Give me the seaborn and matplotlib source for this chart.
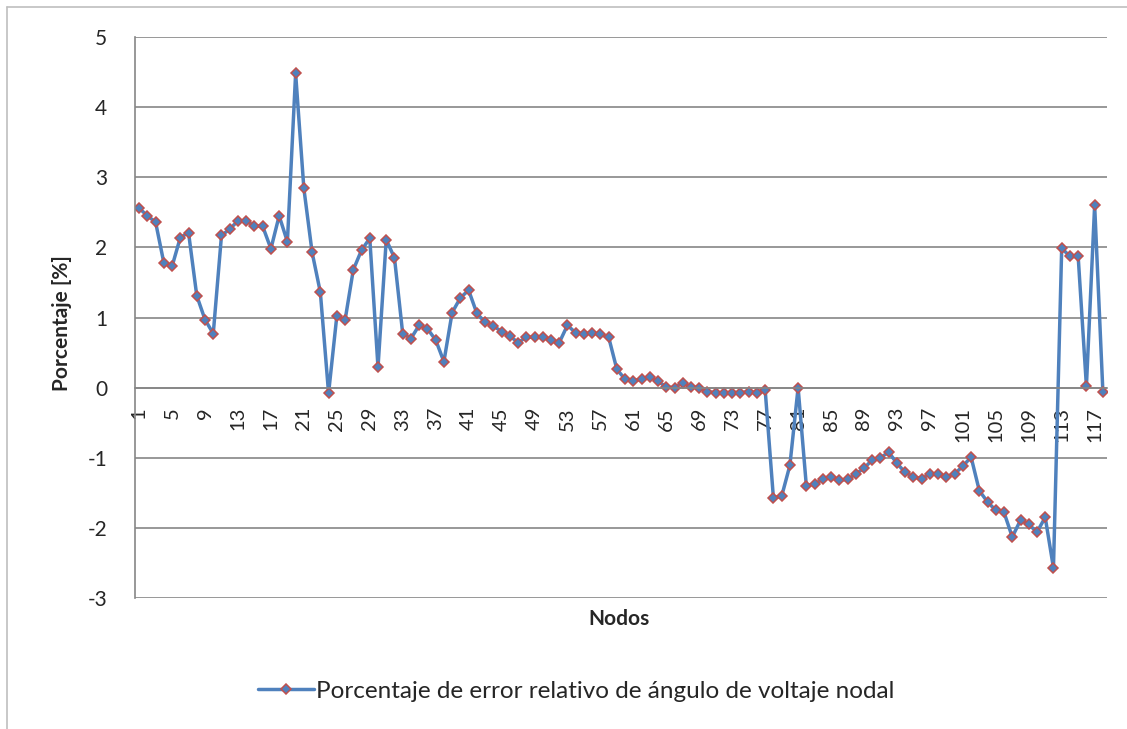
import pandas as pd
import matplotlib.pyplot as plt
import seaborn as sns
from matplotlib.ticker import FixedLocator
from matplotlib.lines import Line2D

# Data: relative error (%) of nodal voltage angle, nodes 1..118
nodos = list(range(1, 119))
error_angulo = [
    2.56, 2.45, 2.36, 1.78, 1.73, 2.14, 2.21, 1.31, 0.97, 0.77,
    2.17, 2.26, 2.38, 2.37, 2.31, 2.30, 1.98, 2.45, 2.08, 4.48,
    2.84, 1.93, 1.36, -0.08, 1.02, 0.96, 1.68, 1.96, 2.13, 0.29,
    2.11, 1.85, 0.77, 0.70, 0.89, 0.84, 0.68, 0.37, 1.07, 1.28,
    1.39, 1.06, 0.93, 0.88, 0.80, 0.74, 0.64, 0.72, 0.72, 0.72,
    0.68, 0.64, 0.89, 0.78, 0.77, 0.78, 0.76, 0.72, 0.26, 0.12,
    0.10, 0.12, 0.15, 0.09, 0.01, 0.00, 0.07, 0.01, 0.00, -0.06,
    -0.07, -0.08, -0.07, -0.07, -0.06, -0.07, -0.03, -1.57, -1.55, -1.11,
    0.00, -1.40, -1.37, -1.31, -1.28, -1.32, -1.31, -1.23, -1.15, -1.03,
    -1.00, -0.92, -1.08, -1.21, -1.27, -1.30, -1.23, -1.23, -1.27, -1.23,
    -1.12, -0.99, -1.47, -1.63, -1.75, -1.78, -2.13, -1.89, -1.95, -2.06,
    -1.85, -2.57, 1.99, 1.87, 1.87, 0.02, 2.60, -0.06,
]
etiquetas_x = nodos[::4]
serie = "Porcentaje de error relativo de ángulo de voltaje nodal"

data = pd.DataFrame({"Nodo": nodos, "Error": error_angulo})

sns.set_style("white")
plt.rcParams['font.family'] = ['Lato', 'DejaVu Sans']
plt.rcParams['axes.unicode_minus'] = False

gris = "#868686"
azul = "#4F81BD"
rojo = "#C0504D"

fig = plt.figure(figsize=(11.27, 7.29), dpi=100)
ax = fig.add_axes([135 / 1127, 1 - 598 / 729, (1107 - 135) / 1127, (598 - 37) / 729])

sns.lineplot(data=data, x="Nodo", y="Error", ax=ax, color=azul, linewidth=2.5,
             marker="D", markersize=5.5, markerfacecolor=azul, markeredgecolor=rojo,
             markeredgewidth=1.1, legend=False)

ax.set_xlim(0.5, 118.5)
ax.set_ylim(-3, 5)
ax.set_yticks(range(-3, 6))
ax.yaxis.grid(True, color=gris, linewidth=1.2)
ax.tick_params(axis='y', direction='out', length=5, width=1.2, color=gris,
               labelsize=15, pad=15)

# category axis crosses at 0
ax.spines['bottom'].set_position(('data', 0))
ax.spines['bottom'].set_color(gris)
ax.spines['bottom'].set_linewidth(1.2)
ax.spines['left'].set_color(gris)
ax.spines['left'].set_linewidth(1.2)
ax.spines['top'].set_visible(False)
ax.spines['right'].set_visible(False)

ax.xaxis.set_major_locator(FixedLocator(etiquetas_x))
ax.set_xticklabels([str(n) for n in etiquetas_x], rotation=90, fontsize=14.5)
ax.xaxis.set_minor_locator(FixedLocator([n + 0.5 for n in range(0, 119)]))
ax.tick_params(axis='x', which='major', length=0, pad=14)
ax.tick_params(axis='x', which='minor', direction='out', length=5, width=1.2, color=gris)

ax.set_xlabel("")
ax.set_ylabel("Porcentaje [%]", fontsize=15, fontweight='bold')
ax.yaxis.set_label_coords((72 - 135) / 972, 0.49)
fig.text(619 / 1127, 1 - 619 / 729, "Nodos", ha='center', va='center',
         fontsize=15, fontweight='bold')

# legend below the chart
handle = Line2D([], [], color=azul, linewidth=2.5, marker="D", markersize=5.5,
                markerfacecolor=azul, markeredgecolor=rojo, markeredgewidth=1.1)
fig.legend([handle], [serie], loc='center', bbox_to_anchor=(576 / 1127, 1 - 691 / 729),
           frameon=False, fontsize=17.5, handlelength=2.3, handletextpad=0.1)

# chart area border
fig.add_artist(Line2D([7 / 1127, 7 / 1127], [0, 1 - 7 / 729], transform=fig.transFigure,
                      color="#BFBFBF", linewidth=1.2))
fig.add_artist(Line2D([7 / 1127, 1], [1 - 7 / 729, 1 - 7 / 729], transform=fig.transFigure,
                      color="#BFBFBF", linewidth=1.2))

plt.savefig("out.png", dpi=100)
